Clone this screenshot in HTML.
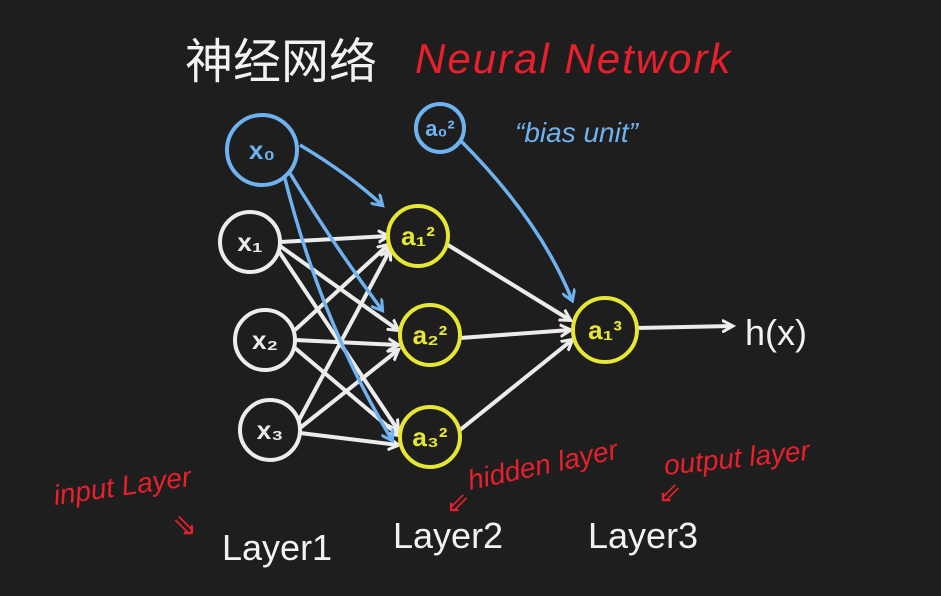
<!DOCTYPE html>
<html><head><meta charset="utf-8"><style>
html,body{margin:0;padding:0;background:#1e1e1e;}
svg{display:block}
text{font-family:"Liberation Sans","Noto Sans CJK SC",sans-serif;}
</style></head><body>
<svg width="941" height="596" viewBox="0 0 941 596" xmlns="http://www.w3.org/2000/svg">
<rect width="941" height="596" fill="#1e1e1e"/>
<defs>
<marker id="aw" markerWidth="14" markerHeight="14" refX="10" refY="7" orient="auto" markerUnits="userSpaceOnUse"><path d="M0,1 L11,7 L0,13" fill="none" stroke="#ececec" stroke-width="3"/></marker>
<marker id="ab" markerWidth="14" markerHeight="14" refX="10" refY="7" orient="auto" markerUnits="userSpaceOnUse"><path d="M0,0 L11,7 L0,14" fill="none" stroke="#6fb2f0" stroke-width="3"/></marker>
</defs>
<text x="185" y="78" font-size="48" fill="#f2f2f2">神经网络</text>
<text x="415" y="73" font-size="42" fill="#e8202c" font-style="italic" letter-spacing="2">Neural Network</text>
<g stroke="#ececec" stroke-width="4" fill="none">
<line x1="280" y1="242" x2="388" y2="236" marker-end="url(#aw)"/>
<line x1="280" y1="246" x2="398" y2="330" marker-end="url(#aw)"/>
<line x1="278" y1="250" x2="398" y2="430" marker-end="url(#aw)"/>
<line x1="295" y1="330" x2="388" y2="245" marker-end="url(#aw)"/>
<line x1="295" y1="340" x2="398" y2="345" marker-end="url(#aw)"/>
<line x1="295" y1="348" x2="398" y2="435" marker-end="url(#aw)"/>
<line x1="298" y1="422" x2="390" y2="250" marker-end="url(#aw)"/>
<line x1="300" y1="428" x2="398" y2="350" marker-end="url(#aw)"/>
<line x1="300" y1="433" x2="398" y2="445" marker-end="url(#aw)"/>
<line x1="448" y1="245" x2="570" y2="320" marker-end="url(#aw)"/>
<line x1="460" y1="338" x2="570" y2="330" marker-end="url(#aw)"/>
<line x1="460" y1="430" x2="572" y2="340" marker-end="url(#aw)"/>
<line x1="637" y1="328" x2="732" y2="326" marker-end="url(#aw)"/>
</g>
<g stroke="#6fb2f0" stroke-width="3.5" fill="none">
<path d="M300,145 Q350,175 382,205" marker-end="url(#ab)"/>
<path d="M288,170 Q330,240 382,310" marker-end="url(#ab)"/>
<path d="M284,175 Q320,320 392,440" marker-end="url(#ab)"/>
<path d="M460,140 Q540,220 572,300" marker-end="url(#ab)"/>
</g>
<g stroke-width="4" fill="#1e1e1e">
<circle cx="262" cy="150" r="35" stroke="#6fb2f0"/>
<circle cx="440" cy="128" r="24" stroke="#6fb2f0"/>
<circle cx="250" cy="242" r="30" stroke="#ececec"/>
<circle cx="265" cy="340" r="30" stroke="#ececec"/>
<circle cx="270" cy="430" r="30" stroke="#ececec"/>
<circle cx="418" cy="236" r="30" stroke="#e6e635"/>
<circle cx="430" cy="335" r="30" stroke="#e6e635"/>
<circle cx="430" cy="437" r="30" stroke="#e6e635"/>
<circle cx="605" cy="330" r="32" stroke="#e6e635"/>
</g>
<g font-size="26" text-anchor="middle" font-weight="bold">
<text x="262" y="159" fill="#6fb2f0">x₀</text>
<text x="440" y="136" fill="#6fb2f0" font-size="22">a₀²</text>
<text x="250" y="251" fill="#ececec">x₁</text>
<text x="265" y="349" fill="#ececec">x₂</text>
<text x="270" y="439" fill="#ececec">x₃</text>
<text x="418" y="245" fill="#e6e635">a₁²</text>
<text x="430" y="344" fill="#e6e635">a₂²</text>
<text x="430" y="446" fill="#e6e635">a₃²</text>
<text x="605" y="339" fill="#e6e635">a₁³</text>
</g>
<text x="745" y="345" font-size="36" fill="#f2f2f2">h(x)</text>
<text x="515" y="142" font-size="28" fill="#6fb2f0" font-style="italic">“bias unit”</text>
<text x="55" y="505" font-size="28" fill="#e8202c" transform="rotate(-8 55 505)" font-style="italic">input Layer</text>
<text x="172" y="535" font-size="30" fill="#e8202c">⇘</text>
<text x="470" y="490" font-size="28" fill="#e8202c" transform="rotate(-12 470 490)" font-style="italic">hidden layer</text>
<text x="446" y="512" font-size="28" fill="#e8202c">⇙</text>
<text x="665" y="475" font-size="28" fill="#e8202c" transform="rotate(-6 665 475)" font-style="italic">output layer</text>
<text x="658" y="502" font-size="28" fill="#e8202c">⇙</text>
<text x="222" y="560" font-size="36" fill="#f2f2f2">Layer1</text>
<text x="393" y="548" font-size="36" fill="#f2f2f2">Layer2</text>
<text x="588" y="548" font-size="36" fill="#f2f2f2">Layer3</text>
</svg>
</body></html>
